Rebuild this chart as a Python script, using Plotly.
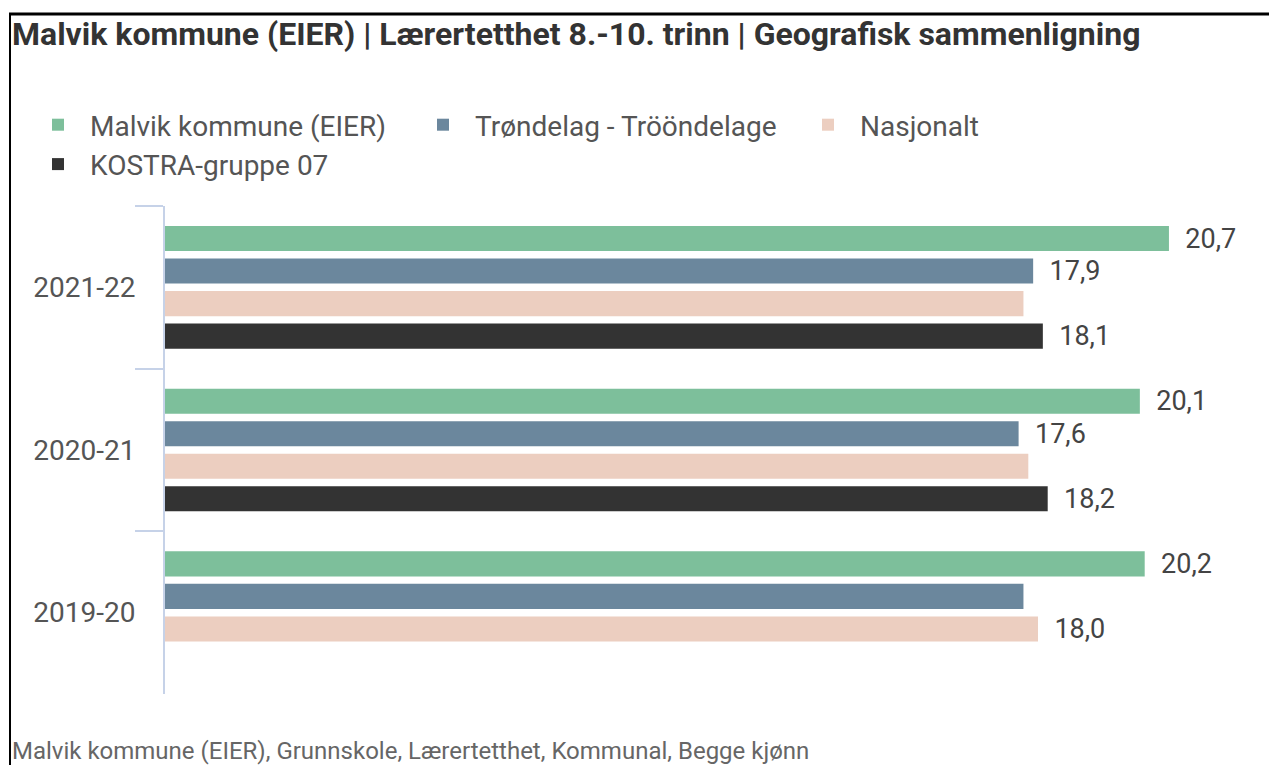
import plotly.graph_objects as go

W, H = 1269, 765

title = "Malvik kommune (EIER) | Lærertetthet 8.-10. trinn | Geografisk sammenligning"
footer = "Malvik kommune (EIER), Grunnskole, Lærertetthet, Kommunal, Begge kjønn"

categories = ["2021-22", "2020-21", "2019-20"]
series_names = ["Malvik kommune (EIER)", "Trøndelag - Trööndelage", "Nasjonalt", "KOSTRA-gruppe 07"]
malvik = [20.7, 20.1, 20.2]
trondelag = [17.9, 17.6, 17.7]
nasjonalt = [17.7, 17.8, 18.0]
kostra = [18.1, 18.2, None]
# which value labels are visible in the reference
malvik_show = [True, True, True]
trondelag_show = [True, True, False]
nasjonalt_show = [False, False, True]
kostra_show = [True, True, False]

colors = ["#7dbf9b", "#6b879d", "#eccec0", "#333333"]

def fmt(v, show):
    if v is None or not show:
        return ""
    return "\u00a0\u00a0" + f"{v:.1f}".replace(".", ",")

fig = go.Figure()
for name, vals, shows, col in zip(series_names,
                                  [malvik, trondelag, nasjonalt, kostra],
                                  [malvik_show, trondelag_show, nasjonalt_show, kostra_show],
                                  colors):
    fig.add_trace(go.Bar(
        name=name, y=categories, x=vals, orientation="h",
        marker=dict(color=col, line=dict(width=0)),
        text=[fmt(v, s) for v, s in zip(vals, shows)],
        textposition="outside", cliponaxis=False, constraintext="none",
        textfont=dict(family="Roboto", size=27, color="#444444"),
        hoverinfo="x+name",
    ))

axis_col = "#c6d2e8"
fig.update_layout(
    width=W, height=H,
    margin=dict(l=0, r=0, t=0, b=0),
    paper_bgcolor="white", plot_bgcolor="white",
    barmode="group", bargap=0.2, bargroupgap=0.23,
    font=dict(family="Roboto", size=28, color="#555555"),
    showlegend=True,
    legend=dict(orientation="h", x=26 / W, y=1 - 100 / H, xanchor="left", yanchor="top",
                entrywidth=316, entrywidthmode="pixels", itemwidth=54,
                font=dict(family="Roboto", size=28, color="#555555"),
                traceorder="normal", bgcolor="rgba(0,0,0,0)"),
    xaxis=dict(domain=[165 / W, (165 + 22 * 48.5) / W], range=[0, 22],
               visible=False, showgrid=False, zeroline=False),
    yaxis=dict(domain=[1 - 694 / H, 1 - 206 / H], autorange="reversed",
               showline=True, linecolor=axis_col, linewidth=2,
               ticks="outside", tickson="boundaries", ticklen=28, tickwidth=2, tickcolor=axis_col,
               ticklabelstandoff=22,
               showgrid=False, zeroline=False,
               tickfont=dict(family="Roboto", size=28, color="#555555")),
    annotations=[
        dict(text=f"<b>{title}</b>", x=10 / W, y=1 - 34 / H, xref="paper", yref="paper",
             xanchor="left", yanchor="middle", showarrow=False,
             font=dict(family="Roboto", size=32, color="#333333")),
        dict(text=footer, x=10 / W, y=1 - 751 / H, xref="paper", yref="paper",
             xanchor="left", yanchor="middle", showarrow=False,
             font=dict(family="Roboto", size=24, color="#666666")),
    ],
    shapes=[
        dict(type="line", xref="paper", yref="paper", x0=9 / W, x1=1, y0=1 - 14 / H, y1=1 - 14 / H,
             line=dict(color="black", width=3)),
        dict(type="line", xref="paper", yref="paper", x0=10 / W, x1=10 / W, y0=0, y1=1 - 13 / H,
             line=dict(color="black", width=2)),
    ],
)

fig.write_html("out.html", config={"displayModeBar": False},
               post_script="document.body.style.margin='0';document.body.style.overflow='hidden';")
